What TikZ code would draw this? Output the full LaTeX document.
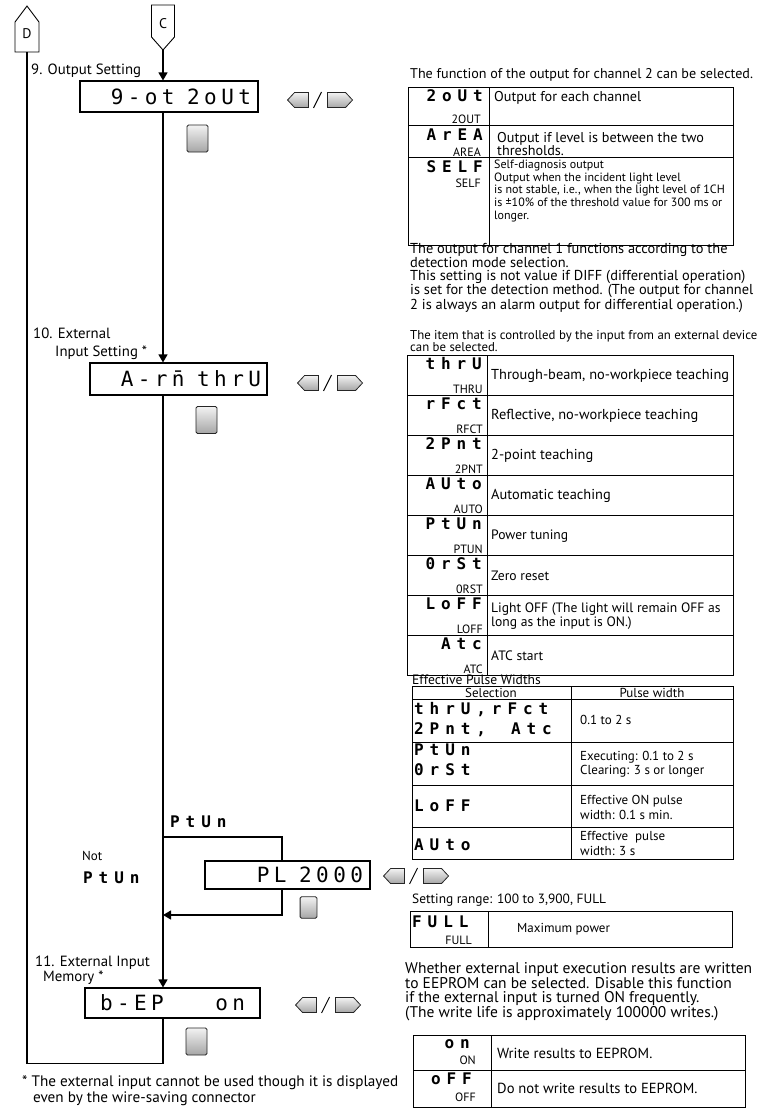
\documentclass[tikz,border=0pt]{standalone}
\usepackage{fontspec}
\setmainfont{PT Sans}
\newfontfamily\lcdbig[LetterSpace=21]{DejaVu Sans Mono}
\newfontfamily\lcdsmall[LetterSpace=37]{DejaVu Sans Mono}
\usetikzlibrary{arrows.meta,positioning,calc}
\tikzset{
  flowLine/.style={line width=1.2pt},
  flowArrow/.style={line width=1.2pt, -{Triangle[length=8pt,width=9pt]}},
  connLine/.style={line width=0.9pt},
  connText/.style={inner sep=0pt, font=\fontsize{14}{14}\selectfont},
  lcdBox/.style={draw, line width=1.1pt, inner sep=0pt, align=right, font=\lcdbig\fontsize{21}{21}\selectfont},
  lcdSmall/.style={inner sep=0pt, align=left, font=\lcdsmall\bfseries\fontsize{16}{20}\selectfont},
  tabLine/.style={line width=0.9pt},
  stepLabel/.style={inner sep=0pt, align=left, font=\fontsize{14.8}{12}\selectfont},
  noteText/.style={inner sep=0pt, align=left, font=\fontsize{14.6}{12}\selectfont},
  smallText/.style={inner sep=0pt, align=left, font=\fontsize{13}{13}\selectfont},
  subText/.style={inner sep=0pt, font=\fontsize{12}{12}\selectfont},
  keyShade/.style={draw=black!85, line width=0.8pt, top color=black!5, bottom color=black!35},
  lrKeys/.pic={
    \draw[keyShade] (0,0) -- (7,-7.5) -- (21,-7.5) -- (21,7.5) -- (7,7.5) -- cycle;
    \draw[line width=1pt] (26,8) -- (34,-8);
    \draw[keyShade] (40,-7.5) -- (58,-7.5) -- (65,0) -- (58,7.5) -- (40,7.5) -- cycle;
  },
  modeKey/.pic={
    \draw[keyShade, rounded corners=1.5pt] (-10.5,-13.5) rectangle (10.5,13.5);
  }
}
\newcommand{\lcdgap}{\hspace*{12.6pt}}

\begin{document}
\begin{tikzpicture}[x=1pt, y=-1pt]
  \useasboundingbox (0,0) rectangle (764,1111);
  % connectors
  \node[connText] (conD) at (27,34) {D};
  \draw[connLine] ($(conD)+(-12,18)$) -- ($(conD)+(-12,-12)$) -- ($(conD)+(0,-28)$) -- ($(conD)+(12,-12)$) -- ($(conD)+(12,18)$) -- cycle;
  \coordinate (conDfoot) at ($(conD)+(0,18)$);
  \node[connText] (conC) at (163,24) {C};
  \draw[connLine] ($(conC)+(-11.5,-19)$) -- ($(conC)+(-11.5,13)$) -- ($(conC)+(0,26)$) -- ($(conC)+(11.5,13)$) -- ($(conC)+(11.5,-19)$) -- cycle;
  \coordinate (conCtip) at ($(conC)+(0,26)$);

  % setting displays
  \node[lcdBox, minimum width=178pt, minimum height=31pt, text width=164pt] (outBox) at (169,96.5) {9-ot\lcdgap 2oUt};
  \node[lcdBox, minimum width=177pt, minimum height=32pt, text width=165pt] (extBox) at (178.5,379) {A-r\=n\lcdgap thrU};
  \node[lcdBox, minimum width=165pt, minimum height=28pt, text width=151pt] (plBox) at (287.5,875) {PL\lcdgap 2000};
  \node[lcdBox, minimum width=175pt, minimum height=30pt, text width=145pt] (memBox) at (172.5,1003) {b-EP\hfill on};

  \pic (keysOut) at ($(outBox.east)+(29,3.5)$) {lrKeys};
  \pic (keysExt) at ($(extBox.east)+(30,4)$) {lrKeys};
  \pic (keysPl) at ($(plBox.east)+(13,1)$) {lrKeys};
  \pic (keysMem) at ($(memBox.east)+(35,2)$) {lrKeys};
  \pic (modeOut) at (197.5,138.5) {modeKey};
  \pic (modeExt) at (206.5,420) {modeKey};
  \pic[scale=0.8] (modePl) at (308.5,907.5) {modeKey};
  \pic (modeMem) at (196.5,1041.5) {modeKey};

  % flow
  \coordinate (split) at (163,837);
  \coordinate (merge) at (163,915);
  \coordinate (plTap) at (282,0);
  \draw[flowArrow] (conCtip) -- (conCtip |- outBox.north);
  \draw[flowArrow] (outBox.south -| conCtip) -- (extBox.north -| conCtip);
  \draw[flowArrow] (extBox.south -| conCtip) -- (memBox.north -| conCtip);
  \draw[flowLine] (split) -| (plTap |- plBox.north);
  \draw[flowArrow] (plTap |- plBox.south) |- (merge);
  \draw[flowLine] (memBox.south -| conCtip) -- ++(0,45) -| (conDfoot);

  % step labels
  \node[stepLabel, anchor=west] (lblOut) at (31,71) {9. Output Setting};
  \node[stepLabel, anchor=north west, font=\fontsize{14.8}{18}\selectfont] (lblExt) at (33,328) {10. External\\\hspace*{22pt}Input Setting *};
  \node[lcdSmall, anchor=west] (lblPt) at (170,822) {PtUn};
  \node[subText, anchor=west, font=\fontsize{13}{13}\selectfont] (lblNot) at (82,856) {Not};
  \node[lcdSmall, anchor=west] (lblNotPt) at (83,878) {PtUn};
  \node[stepLabel, anchor=north west] (lblMem) at (35,956) {11. External Input\\\hspace*{8pt}Memory *};
  \node[noteText, anchor=north west, font=\fontsize{15.2}{16}\selectfont] (foot) at (22,1075) {* The external input cannot be used though it is displayed\\\hspace*{11pt}even by the wire-saving connector};

  % output function table
  \node[noteText, anchor=west, font=\fontsize{14.1}{13}\selectfont] (fnIntro) at (410,75) {The function of the output for channel 2 can be selected.};
  \draw[tabLine] (408,87) rectangle (733,245);
  \draw[tabLine] (489,87) -- (489,245) (408,125) -- (733,125) (408,157) -- (733,157);
  \node[lcdSmall, anchor=east] (fnSegA) at (483,96) {2oUt};
  \node[subText, anchor=east] (fnSubA) at (481,119) {2OUT};
  \node[noteText, anchor=west, font=\fontsize{14.2}{13}\selectfont] (fnTxtA) at (494,98) {Output for each channel};
  \node[lcdSmall, anchor=east] (fnSegB) at (483,135) {ArEA};
  \node[subText, anchor=east] (fnSubB) at (481,152) {AREA};
  \node[noteText, anchor=west, font=\fontsize{14.2}{12}\selectfont] (fnTxtB) at (497,144) {Output if level is between the two\\thresholds.};
  \node[lcdSmall, anchor=east] (fnSegC) at (483,167) {SELF};
  \node[subText, anchor=east] (fnSubC) at (481,183) {SELF};
  \node[smallText, anchor=north west, font=\fontsize{12}{12.8}\selectfont] (fnTxtC) at (494,159.5) {Self-diagnosis output\\Output when the incident light level\\is not stable, i.e., when the light level of 1CH\\is ±10\% of the threshold value for 300 ms or\\longer.};
  \node[noteText, anchor=north west, font=\fontsize{14.4}{12.8}\selectfont] (fnNote) at (410,243) {The output for channel 1 functions according to the\\detection mode selection.\\This setting is not value if DIFF (differential operation)\\is set for the detection method. (The output for channel\\2 is always an alarm output for differential operation.)};

  % external input table
  \node[smallText, anchor=north west, font=\fontsize{12.8}{9.5}\selectfont] (inIntro) at (410,330) {The item that is controlled by the input from an external device\\can be selected.};
  \draw[tabLine] (407,355) rectangle (733,675);
  \draw[tabLine] (487,355) -- (487,675);
  \foreach \i in {1,...,7} \draw[tabLine] (407,{355+40*\i}) -- (733,{355+40*\i});
  \foreach \i/\s/\u/\f/\d in {0/thrU/THRU/14.4/{Through-beam, no-workpiece teaching},
    1/rFct/RFCT/14.4/{Reflective, no-workpiece teaching},
    2/2Pnt/2PNT/14.4/{2-point teaching},
    3/AUto/AUTO/14.4/{Automatic teaching},
    4/PtUn/PTUN/13.6/{Power tuning},
    5/0rSt/0RST/13.6/{Zero reset},
    6/LoFF/LOFF/13.6/{Light OFF (The light will remain OFF as\\long as the input is ON.)},
    7/Atc/ATC/13.6/{ATC start}}{
    \node[lcdSmall, anchor=east] (inSeg\i) at (482,{364+40*\i}) {\s};
    \node[subText, anchor=east] (inSub\i) at (483,{389+40*\i}) {\u};
    \node[noteText, anchor=west, font=\fontsize{\f}{14}\selectfont] (inTxt\i) at (491,{376+40*\i}) {\d};
  }

  % pulse width table
  \node[smallText, anchor=west, font=\fontsize{13.6}{12}\selectfont] (pwTitle) at (412,680) {Effective Pulse Widths};
  \draw[tabLine] (412,686) rectangle (733,859);
  \draw[tabLine] (571,686) -- (571,859);
  \foreach \y in {699,742,785,827} \draw[tabLine] (412,\y) -- (733,\y);
  \node[smallText] (pwHeadA) at (491,692.5) {Selection};
  \node[smallText] (pwHeadB) at (652,692.5) {Pulse width};
  \node[lcdSmall, anchor=north west] (pwSegA) at (414,702) {thrU,rFct\\2Pnt,\hspace*{25pt}Atc};
  \node[lcdSmall, anchor=north west] (pwSegB) at (414,744) {PtUn\\0rSt};
  \node[lcdSmall, anchor=west] (pwSegC) at (414,806) {LoFF};
  \node[lcdSmall, anchor=west] (pwSegD) at (414,845) {AUto};
  \node[smallText, anchor=west] (pwTxtA) at (580,720) {0.1 to 2 s};
  \node[smallText, anchor=west, font=\fontsize{13}{14.5}\selectfont] (pwTxtB) at (580,764) {Executing: 0.1 to 2 s\\Clearing: 3 s or longer};
  \node[smallText, anchor=west, font=\fontsize{13}{15}\selectfont] (pwTxtC) at (580,807) {Effective ON pulse\\width: 0.1 s min.};
  \node[smallText, anchor=west, font=\fontsize{13}{15}\selectfont] (pwTxtD) at (580,843) {Effective\ \ pulse\\width: 3 s};

  % power table
  \node[smallText, anchor=west, font=\fontsize{13.4}{12}\selectfont] (plRange) at (412,900) {Setting range: 100 to 3,900, FULL};
  \draw[tabLine] (410,911) rectangle (732,947);
  \draw[tabLine] (488,911) -- (488,947);
  \node[lcdSmall, anchor=west] (plSeg) at (412,922) {FULL};
  \node[subText, anchor=east] (plSub) at (472,940) {FULL};
  \node[smallText, anchor=west] (plTxt) at (517,929) {Maximum power};

  % memory table
  \node[noteText, anchor=north west, font=\fontsize{15.5}{14}\selectfont] (memNote) at (405,962) {Whether external input execution results are written\\to EEPROM can be selected. Disable this function\\if the external input is turned ON frequently.\\(The write life is approximately 100000 writes.)};
  \draw[tabLine] (413,1035) rectangle (745,1107);
  \draw[tabLine] (491,1035) -- (491,1107) (413,1070) -- (745,1070);
  \node[lcdSmall, anchor=east] (memSegA) at (470,1044) {on};
  \node[subText, anchor=east] (memSubA) at (476,1060) {ON};
  \node[noteText, anchor=west] (memTxtA) at (497,1053) {Write results to EEPROM.};
  \node[lcdSmall, anchor=east] (memSegB) at (472,1079) {oFF};
  \node[subText, anchor=east] (memSubB) at (476,1097) {OFF};
  \node[noteText, anchor=west] (memTxtB) at (497,1088) {Do not write results to EEPROM.};
\end{tikzpicture}
\end{document}
